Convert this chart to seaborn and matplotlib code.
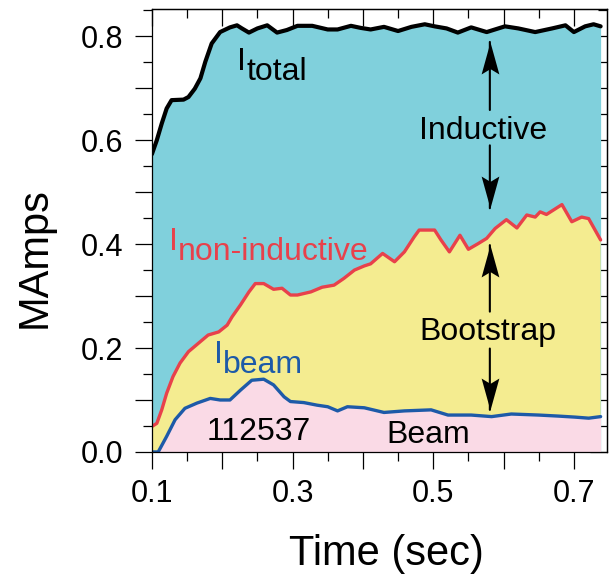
import matplotlib
matplotlib.use("Agg")
import matplotlib.pyplot as plt
from matplotlib.ticker import MultipleLocator, FuncFormatter
from matplotlib.path import Path
import seaborn as sns

# Plasma current components for shot 112537 (MA vs. time in s)
total_t = [0.100, 0.107, 0.114, 0.121, 0.128, 0.145, 0.152, 0.161, 0.169, 0.176,
           0.185, 0.197, 0.211, 0.221, 0.228, 0.238, 0.250, 0.264, 0.278, 0.292,
           0.307, 0.328, 0.350, 0.364, 0.383, 0.397, 0.411, 0.430, 0.450, 0.469,
           0.488, 0.502, 0.519, 0.535, 0.554, 0.576, 0.602, 0.621, 0.645, 0.669,
           0.688, 0.700, 0.716, 0.728, 0.738]
total_i = [0.573, 0.600, 0.632, 0.661, 0.677, 0.678, 0.683, 0.699, 0.719, 0.751,
           0.786, 0.808, 0.817, 0.821, 0.815, 0.807, 0.815, 0.821, 0.807, 0.812,
           0.820, 0.820, 0.813, 0.813, 0.820, 0.816, 0.813, 0.818, 0.810, 0.818,
           0.823, 0.819, 0.815, 0.807, 0.817, 0.808, 0.819, 0.815, 0.808, 0.815,
           0.821, 0.808, 0.819, 0.823, 0.819]

noninductive_t = [0.100, 0.107, 0.114, 0.121, 0.130, 0.140, 0.152, 0.166, 0.180, 0.195,
                  0.207, 0.214, 0.226, 0.238, 0.247, 0.259, 0.273, 0.285, 0.297, 0.307,
                  0.326, 0.342, 0.359, 0.373, 0.388, 0.402, 0.411, 0.428, 0.445, 0.459,
                  0.473, 0.480, 0.502, 0.511, 0.523, 0.538, 0.550, 0.564, 0.576, 0.588,
                  0.604, 0.619, 0.633, 0.645, 0.652, 0.661, 0.683, 0.697, 0.711, 0.721,
                  0.738]
noninductive_i = [0.049, 0.055, 0.081, 0.113, 0.145, 0.171, 0.193, 0.209, 0.225, 0.231,
                  0.244, 0.260, 0.283, 0.308, 0.324, 0.324, 0.313, 0.315, 0.302, 0.302,
                  0.308, 0.317, 0.321, 0.334, 0.350, 0.358, 0.362, 0.382, 0.366, 0.385,
                  0.414, 0.427, 0.427, 0.408, 0.385, 0.417, 0.390, 0.401, 0.411, 0.430,
                  0.447, 0.431, 0.456, 0.452, 0.462, 0.457, 0.476, 0.443, 0.452, 0.449,
                  0.408]

beam_t = [0.100, 0.109, 0.121, 0.133, 0.147, 0.164, 0.183, 0.197, 0.211, 0.226,
          0.242, 0.259, 0.273, 0.288, 0.297, 0.316, 0.335, 0.350, 0.364, 0.378,
          0.402, 0.430, 0.459, 0.497, 0.521, 0.554, 0.583, 0.611, 0.650, 0.678,
          0.702, 0.721, 0.738]
beam_i = [0.000, 0.000, 0.030, 0.062, 0.084, 0.094, 0.103, 0.100, 0.100, 0.119,
          0.138, 0.140, 0.129, 0.106, 0.097, 0.095, 0.090, 0.087, 0.079, 0.087,
          0.085, 0.076, 0.079, 0.081, 0.071, 0.071, 0.068, 0.073, 0.071, 0.069,
          0.067, 0.065, 0.068]

x_ticklabels = [0.1, 0.3, 0.5, 0.7]
y_ticklabels = [0.0, 0.2, 0.4, 0.6, 0.8]

CYAN = "#80D0DC"
YELLOW = "#F4EC90"
PINK = "#FADAE6"
RED = "#E8414B"
BLUE = "#1D5AA8"

sns.set_style("ticks")
plt.rcParams["font.family"] = ["Liberation Sans", "DejaVu Sans"]
plt.rcParams.update({"text.color": "black", "axes.labelcolor": "black",
                     "xtick.color": "black", "ytick.color": "black",
                     "axes.edgecolor": "black",
                     "lines.solid_joinstyle": "round",
                     "lines.solid_capstyle": "round"})

fig = plt.figure(figsize=(6.1, 5.75), dpi=100)
ax = fig.add_axes([0.249, 0.214, 0.746, 0.770])

# stacked regions
ax.fill_between(total_t, 0, total_i, color=CYAN, lw=0, zorder=1)
poly_x = list(noninductive_t) + list(beam_t[::-1])
poly_y = list(noninductive_i) + list(beam_i[::-1])
ax.fill(poly_x, poly_y, color=YELLOW, lw=0, zorder=2)
ax.fill_between(beam_t, 0, beam_i, color=PINK, lw=0, zorder=3)

sns.lineplot(x=total_t, y=total_i, color="black", linewidth=3.0, sort=False,
             estimator=None, ax=ax, zorder=5)
sns.lineplot(x=noninductive_t, y=noninductive_i, color=RED, linewidth=2.4, sort=False,
             estimator=None, ax=ax, zorder=5)
sns.lineplot(x=beam_t, y=beam_i, color=BLUE, linewidth=2.4, sort=False,
             estimator=None, ax=ax, zorder=5)

ax.set_xlim(0.1, 0.747)
ax.set_ylim(0.0, 0.852)

# ticks: outward on bottom/left, inward on top/right
for axis, labels in ((ax.xaxis, x_ticklabels), (ax.yaxis, y_ticklabels)):
    axis.set_major_locator(MultipleLocator(0.1))
    axis.set_minor_locator(MultipleLocator(0.05))
    axis.set_major_formatter(FuncFormatter(
        lambda v, p, labs=labels: f"{v:.1f}" if any(abs(v - l) < 1e-6 for l in labs) else ""))
ax.tick_params(which="major", direction="out", length=12, width=0.9, labelsize=22)
ax.tick_params(which="minor", direction="out", length=6.5, width=0.9)
ax.tick_params(axis="x", which="major", pad=7.5)
ax.tick_params(axis="y", which="major", pad=8.5)

secx = ax.secondary_xaxis("top")
secy = ax.secondary_yaxis("right")
for sec, axis in ((secx, secx.xaxis), (secy, secy.yaxis)):
    axis.set_major_locator(MultipleLocator(0.1))
    axis.set_minor_locator(MultipleLocator(0.05))
    sec.tick_params(which="major", direction="in", length=12, width=0.9, labelsize=0)
    sec.tick_params(which="minor", direction="in", length=6.5, width=0.9)
    axis.set_major_formatter(FuncFormatter(lambda v, p: ""))
    for s in sec.spines.values():
        s.set_linewidth(0.9)

for s in ax.spines.values():
    s.set_linewidth(0.9)
    s.set_zorder(6)

ax.set_xlabel("Time (sec)", fontsize=30, va="top")
ax.xaxis.set_label_coords(0.516, -0.185)
ax.set_ylabel("MAmps", fontsize=30)
ax.yaxis.set_label_coords(-0.213, 0.44)

FS = 23
def subscripted(x, y, main, sub, dx, dy, color):
    ax.text(x, y, main, fontsize=FS, color=color, ha="left", va="baseline", zorder=7)
    ax.text(x + dx, y + dy, sub, fontsize=FS, color=color, ha="left", va="baseline", zorder=7)

subscripted(0.2214, 0.735, "I", "total", 0.0129, -0.020, "black")
subscripted(0.1237, 0.388, "I", "non-inductive", 0.0129, -0.019, RED)
subscripted(0.1881, 0.1705, "I", "beam", 0.0129, -0.0185, BLUE)

ax.text(0.2516, 0.023, "112537", fontsize=FS, ha="center", va="baseline", zorder=7)
ax.text(0.4924, 0.0167, "Beam", fontsize=FS, ha="center", va="baseline", zorder=7)
ax.text(0.571, 0.603, "Inductive", fontsize=FS, ha="center", va="baseline", zorder=7)
ax.text(0.578, 0.215, "Bootstrap", fontsize=FS, ha="center", va="baseline", zorder=7)

# double-headed "span" arrows: thin shaft plus a notched arrowhead with its tip at the end
head_up = Path([(0, 0), (0.5, -1.8), (0, -1.5), (-0.5, -1.8), (0, 0)],
               [Path.MOVETO, Path.LINETO, Path.LINETO, Path.LINETO, Path.CLOSEPOLY])
head_down = Path([(0, 0), (0.5, 1.8), (0, 1.5), (-0.5, 1.8), (0, 0)],
                 [Path.MOVETO, Path.LINETO, Path.LINETO, Path.LINETO, Path.CLOSEPOLY])
arrow_x = 0.5805
for y0, y1 in ((0.658, 0.789), (0.590, 0.469), (0.270, 0.398), (0.199, 0.081)):
    ax.annotate("", xy=(arrow_x, y1), xytext=(arrow_x, y0),
                arrowprops=dict(arrowstyle="-", lw=1.5, color="black",
                                shrinkA=0, shrinkB=0), zorder=7)
    ax.plot([arrow_x], [y1], marker=head_up if y1 > y0 else head_down,
            markersize=46, color="black", markeredgewidth=0, linestyle="none", zorder=8)

fig.savefig("out.png", dpi=100)
